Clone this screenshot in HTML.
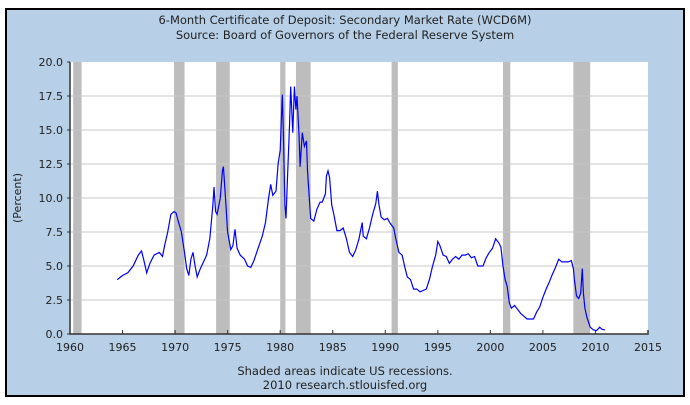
<!DOCTYPE html>
<html><head><meta charset="utf-8"><style>
body{margin:0;background:#fff;width:690px;height:405px;overflow:hidden}
svg{display:block;font-family:"DejaVu Sans","Liberation Sans",sans-serif}
</style></head><body>
<svg id="chart" width="690" height="405">
<rect x="6" y="9" width="678" height="387" fill="#b7cfe7" stroke="#000" stroke-width="2"/>
<text x="345" y="24" text-anchor="middle" font-size="11.5" fill="#222">6-Month Certificate of Deposit: Secondary Market Rate (WCD6M)</text>
<text x="345" y="39" text-anchor="middle" font-size="11.5" fill="#222">Source: Board of Governors of the Federal Reserve System</text>
<rect x="70" y="62" width="578" height="272" fill="#fff"/>
<g id="rec"></g><g id="grid"></g><g id="axes"></g>
<path id="line" fill="none" stroke="#0000ff" stroke-width="1.2"/>
<text transform="translate(21,198) rotate(-90)" text-anchor="middle" font-size="11" fill="#222">(Percent)</text>
<text x="345" y="375" text-anchor="middle" font-size="11.5" fill="#222">Shaded areas indicate US recessions.</text>
<text x="345" y="389" text-anchor="middle" font-size="11.5" fill="#222">2010 research.stlouisfed.org</text>
</svg>
<script>
const yTicks=[0,2.5,5,7.5,10,12.5,15,17.5,20];
const xTicks=[1960,1965,1970,1975,1980,1985,1990,1995,2000,2005,2010,2015];
const recStart=[1960.3,1969.9,1973.9,1980.0,1981.5,1990.6,2001.2,2007.9];
const recEnd=[1961.1,1970.9,1975.2,1980.5,1982.9,1991.2,2001.9,2009.5];
const years=[1964.5,1965,1965.5,1966,1966.5,1966.8,1967,1967.3,1967.6,1968,1968.5,1968.8,1969,1969.3,1969.6,1969.9,1970.1,1970.3,1970.6,1970.9,1971.1,1971.3,1971.5,1971.7,1971.9,1972.1,1972.4,1972.7,1973,1973.3,1973.6,1973.7,1973.85,1974,1974.3,1974.5,1974.6,1974.8,1975,1975.3,1975.5,1975.7,1975.9,1976.2,1976.6,1976.9,1977.2,1977.5,1977.9,1978.3,1978.6,1978.9,1979.1,1979.3,1979.6,1979.8,1980,1980.2,1980.3,1980.45,1980.55,1980.7,1980.9,1981,1981.2,1981.35,1981.5,1981.6,1981.8,1981.9,1982.1,1982.3,1982.5,1982.6,1982.75,1982.9,1983.2,1983.5,1983.8,1984,1984.3,1984.4,1984.55,1984.7,1984.9,1985.1,1985.4,1985.7,1986,1986.3,1986.6,1986.9,1987.2,1987.5,1987.8,1987.9,1988.2,1988.5,1988.8,1989.1,1989.25,1989.4,1989.6,1989.9,1990.2,1990.5,1990.8,1991,1991.3,1991.6,1991.9,1992.1,1992.4,1992.7,1993,1993.3,1993.6,1993.9,1994.2,1994.5,1994.8,1995,1995.2,1995.5,1995.8,1996.1,1996.4,1996.7,1997,1997.3,1997.6,1997.9,1998.2,1998.5,1998.8,1999,1999.3,1999.6,1999.9,2000.2,2000.5,2000.8,2001,2001.2,2001.4,2001.6,2001.8,2002,2002.3,2002.6,2002.9,2003.2,2003.5,2003.8,2004.1,2004.4,2004.7,2005,2005.3,2005.6,2005.9,2006.2,2006.5,2006.8,2007.1,2007.4,2007.7,2007.9,2008,2008.2,2008.4,2008.6,2008.75,2008.85,2009,2009.2,2009.5,2009.8,2010.1,2010.4,2010.6,2010.9];
const rates=[4.0,4.3,4.5,5.0,5.8,6.1,5.5,4.5,5.2,5.8,6.0,5.7,6.5,7.5,8.8,9.0,8.9,8.3,7.5,6.0,4.8,4.3,5.5,6.0,5.0,4.2,4.8,5.3,5.8,7.0,9.5,10.8,9.0,8.8,10.0,12.0,12.3,10.0,7.5,6.2,6.5,7.7,6.3,5.8,5.5,5.0,4.9,5.4,6.3,7.2,8.2,10.0,11.0,10.2,10.5,12.5,13.5,17.6,15.0,9.5,8.5,11.5,15.5,18.2,14.8,18.2,16.5,17.5,14.5,12.3,14.8,13.8,14.2,12.0,10.2,8.5,8.3,9.2,9.7,9.7,10.3,11.6,12.0,11.5,9.5,8.8,7.6,7.6,7.8,7.0,6.0,5.7,6.2,7.0,8.2,7.2,7.0,7.8,8.8,9.6,10.5,9.5,8.6,8.4,8.5,8.1,7.8,7.0,6.0,5.8,4.8,4.2,4.0,3.3,3.3,3.1,3.2,3.3,4.0,5.0,5.8,6.8,6.5,5.8,5.7,5.2,5.5,5.7,5.5,5.8,5.8,5.9,5.6,5.7,5.0,5.0,5.0,5.6,6.0,6.3,7.0,6.7,6.4,5.0,4.0,3.5,2.3,1.9,2.1,1.8,1.5,1.3,1.1,1.1,1.1,1.6,2.0,2.7,3.3,3.8,4.4,4.9,5.5,5.3,5.3,5.3,5.4,4.8,4.0,2.8,2.6,3.0,4.8,3.0,1.9,1.2,0.5,0.3,0.25,0.5,0.35,0.3];
const X0=70,X1=648,Y0=334,Y1=62;
const xs=v=>X0+(v-1960)/(2015-1960)*(X1-X0);
const ys=v=>Y0-v/20*(Y0-Y1);
const NS="http://www.w3.org/2000/svg";
function mk(t,p,a){const e=document.createElementNS(NS,t);for(const k in a)e.setAttribute(k,a[k]);p.appendChild(e);return e;}
const rec=document.getElementById('rec'),grid=document.getElementById('grid'),axes=document.getElementById('axes');
recStart.forEach((s,i)=>{
  const r=mk('rect',rec,{x:xs(s),y:Y1,width:xs(recEnd[i])-xs(s),height:Y0-Y1,fill:'#bdbdbd'});
  
  
});
yTicks.forEach(v=>{
  if(v>0&&v<20){const g=mk('line',grid,{x1:X0,x2:X1,y1:ys(v),y2:ys(v),stroke:'#c8c8c8','stroke-width':1});
  
  }
  mk('line',axes,{x1:X0-3,x2:X0,y1:ys(v),y2:ys(v),stroke:'#333'});
  const t=mk('text',axes,{x:X0-7,y:ys(v)+4,'text-anchor':'end','font-size':11,fill:'#222'});
  t.textContent=v.toFixed(1);
  
  
});
xTicks.forEach(v=>{
  mk('line',axes,{x1:xs(v),x2:xs(v),y1:Y0,y2:Y0-4,stroke:'#333'});
  const t=mk('text',axes,{x:xs(v),y:Y0+17,'text-anchor':'middle','font-size':11,fill:'#222'});
  t.textContent=v;
  
  
});
mk('path',axes,{d:`M${X0},${Y1} V${Y0} H${X1} V${Y0-4}`,fill:'none',stroke:'#333','stroke-width':1.5});
document.getElementById('line').setAttribute('d',years.map((y,i)=>(i?'L':'M')+xs(y).toFixed(1)+','+ys(rates[i]).toFixed(1)).join(''));
</script>
</body></html>
